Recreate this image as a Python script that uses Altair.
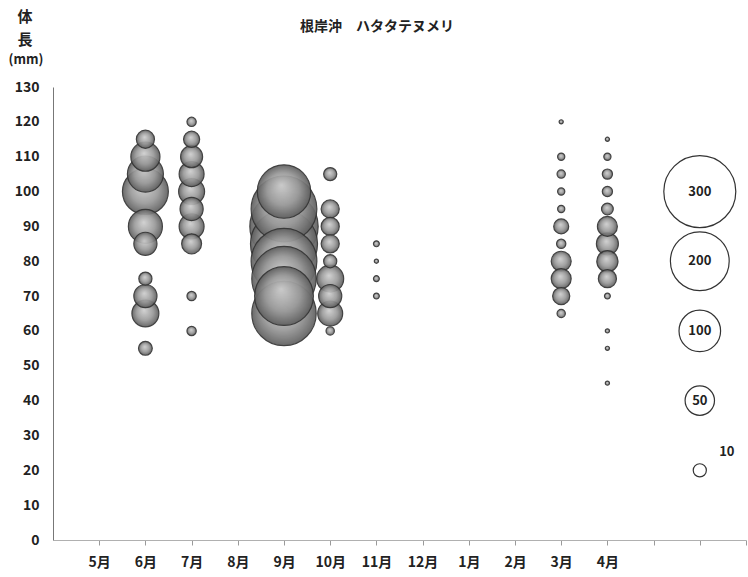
import altair as alt
import pandas as pd

# Month categories along the x axis (position 1 = 5月 ... 12 = 4月)
months = ["5月", "6月", "7月", "8月", "9月", "10月", "11月", "12月", "1月", "2月", "3月", "4月"]

# Body length (mm) and number of fish for each sampled month
jun_len = [115, 110, 105, 100, 90, 85, 75, 70, 65, 55]
jun_n = [19, 49, 75, 122, 67, 31, 10, 31, 42, 11]

jul_len = [120, 115, 110, 105, 100, 95, 90, 85, 70, 60]
jul_n = [5, 15, 28, 36, 39, 31, 36, 23, 5, 5]

sep_len = [100, 95, 90, 85, 80, 75, 70, 65]
sep_n = [165, 250, 270, 260, 250, 240, 200, 240]

oct_len = [105, 95, 90, 85, 80, 75, 70, 65, 60]
oct_n = [10, 19, 19, 19, 10, 42, 31, 36, 4]

nov_len = [85, 80, 75, 70]
nov_n = [2, 1, 2, 2]

mar_len = [120, 110, 105, 100, 95, 90, 85, 80, 75, 70, 65]
mar_n = [1, 3, 4, 3, 3, 13, 5, 23, 23, 17, 4]

apr_len = [115, 110, 105, 100, 95, 90, 85, 80, 75, 70, 60, 55, 45]
apr_n = [1, 3, 6, 6, 8, 23, 28, 26, 19, 2, 1, 1, 1]

# Bubble-size key
key_n = [300, 200, 100, 50, 10]
key_len = [100, 80, 60, 40, 20]
key_pos = 14

series = [
    (2, jun_len, jun_n),
    (3, jul_len, jul_n),
    (5, sep_len, sep_n),
    (6, oct_len, oct_n),
    (7, nov_len, nov_n),
    (11, mar_len, mar_n),
    (12, apr_len, apr_n),
]
rows = []
for pos, lens, ns in series:
    for l, n in zip(lens, ns):
        rows.append({"pos": pos, "len": l, "n": n})
df = pd.DataFrame(rows)

key_df = pd.DataFrame({"pos": [key_pos] * len(key_n), "len": key_len, "n": key_n,
                       "label": [str(v) for v in key_n]})

FONT = "Noto Sans CJK JP"

x_scale = alt.Scale(domain=[0, 15], nice=False, zero=False)
y_scale = alt.Scale(domain=[0, 130], nice=False)
size_scale = alt.Scale(type="linear", domain=[0, 300], range=[0, 5184], zero=True)

month_expr = "[''," + ",".join(f"'{m}'" for m in months) + ",'','',''][datum.value]"

x_axis = alt.Axis(values=list(range(1, 16)), labelExpr=month_expr, title=None,
                  grid=False, domainColor="#b0b0b0", tickColor="#9a9a9a", tickSize=5,
                  labelFont=FONT, labelFontSize=14, labelFontWeight="bold",
                  labelColor="#222", labelPadding=10, labelOverlap=False)
y_axis = alt.Axis(values=list(range(0, 131, 10)), title=None, grid=False,
                  domainColor="#777", ticks=False, labelPadding=14, labelOverlap=False,
                  labelFont=FONT, labelFontSize=14, labelFontWeight="bold",
                  labelColor="#222")

X = alt.X("pos:Q", scale=x_scale, axis=x_axis)
Y = alt.Y("len:Q", scale=y_scale, axis=y_axis)

sphere = {
    "gradient": "radial",
    "x1": 0.45, "y1": 0.38, "r1": 0.0,
    "x2": 0.5, "y2": 0.5, "r2": 0.5,
    "stops": [
        {"offset": 0.0, "color": "#cfcfcf"},
        {"offset": 0.6, "color": "#9a9a9a"},
        {"offset": 1.0, "color": "#5e5e5e"},
    ],
}

bubbles = alt.Chart(df).mark_point(
    shape="circle", filled=True, fill=sphere, stroke="#333333",
    strokeWidth=1.2, opacity=0.92
).encode(
    x=X, y=Y,
    size=alt.Size("n:Q", scale=size_scale, legend=None),
    order=alt.Order("n:Q", sort="descending"),
)

key_circles = alt.Chart(key_df).mark_point(
    shape="circle", filled=True, fill="white", stroke="#333",
    strokeWidth=1.2, opacity=1
).encode(
    x=X, y=Y,
    size=alt.Size("n:Q", scale=size_scale, legend=None),
)

key_text = alt.Chart(key_df[key_df["n"] >= 50]).mark_text(
    font=FONT, fontSize=13, fontWeight="bold", color="#222"
).encode(x=X, y=Y, text="label:N")

key_small = alt.Chart(key_df[key_df["n"] < 50]).mark_text(
    font=FONT, fontSize=13, fontWeight="bold", color="#222", dx=27, dy=-18
).encode(x=X, y=Y, text="label:N")


def label(txt, px, py, fs):
    return alt.Chart(pd.DataFrame({"t": [txt]})).mark_text(
        font=FONT, fontSize=fs, fontWeight="bold", color="#222"
    ).encode(x=alt.value(px), y=alt.value(py), text="t:N")


title = label("根岸沖　ハタタテヌメリ", 324, -60, 14)
y_title = [label("体", -28, -70, 15), label("長", -28, -47, 15), label("(mm)", -27, -27, 13)]

chart = alt.layer(bubbles, key_circles, key_text, key_small, title, *y_title).properties(
    width=693, height=453,
    padding={"left": 53, "top": 87, "right": 2, "bottom": 37},
    autosize="none",
).configure_view(stroke=None)

chart.save("out.html", embed_options={"renderer": "svg", "actions": False})
